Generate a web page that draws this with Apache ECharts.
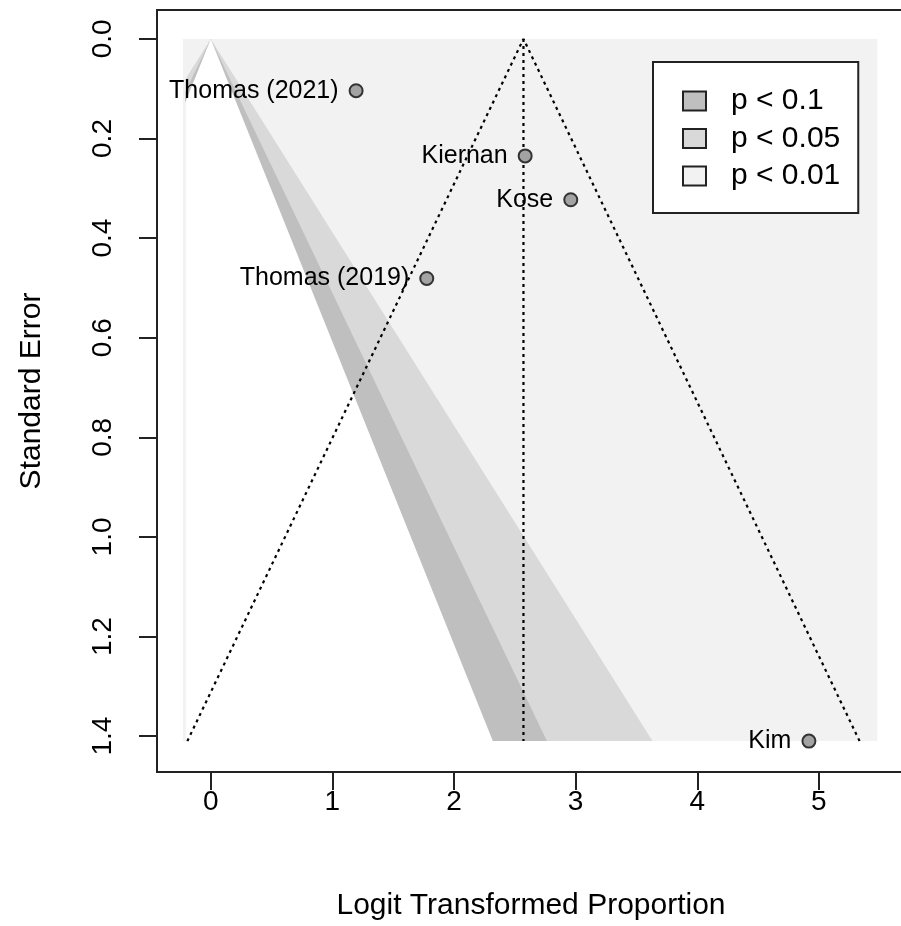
<!DOCTYPE html>
<html>
<head>
<meta charset="utf-8">
<script src="https://cdn.jsdelivr.net/npm/echarts@6/dist/echarts.min.js"></script>
<style>html,body{margin:0;padding:0;background:#fff;}#c{width:901px;height:926px;}</style>
</head>
<body>
<div id="c"></div>
<script>
// ---- data ----
var studies = ["Thomas (2021)", "Kiernan", "Kose", "Thomas (2019)", "Kim"];
var logitProp = [1.195, 2.585, 2.960, 1.776, 4.918];
var stdErr = [0.104, 0.235, 0.323, 0.481, 1.41];
var estimate = 2.571;
var xTicks = [0, 1, 2, 3, 4, 5];
var yTicks = [0, 0.2, 0.4, 0.6, 0.8, 1.0, 1.2, 1.4];
var contourZ = [1.6449, 1.96, 2.5758];          // 90%, 95%, 99%
var contourNames = ["p < 0.1", "p < 0.05", "p < 0.01"];
var shadeRegionX = [-0.228, 5.48];               // extent of shaded contour region
var xRange = [-0.442, 5.708];
var yRange = [-0.058, 1.472];

var seMax = Math.max.apply(null, stdErr);
var clipX = shadeRegionX[0] + 0.018;
var FONT = "'Liberation Sans', Arial, sans-serif";

function triangle(z) {
  var lx = -z * seMax, rx = z * seMax;
  if (lx < clipX) {
    return [[0, 0], [clipX, -clipX / z], [clipX, seMax], [rx, seMax]];
  }
  return [[0, 0], [lx, seMax], [rx, seMax]];
}
function polySeries(name, pts, color, z) {
  return {
    name: name, type: 'custom', data: [[0, 0]], z: z, silent: true,
    itemStyle: { color: color },
    label: { show: false },
    renderItem: function (params, api) {
      return {
        type: 'polygon',
        shape: { points: pts.map(function (p) { return api.coord(p); }) },
        style: { fill: color, stroke: 'none', lineWidth: 0 }
      };
    }
  };
}
var rectPts = [[shadeRegionX[0], 0], [shadeRegionX[1], 0], [shadeRegionX[1], seMax], [shadeRegionX[0], seMax]];

var dotted = { color: '#000', width: 2.2, type: [3, 4] };

var chart = echarts.init(document.getElementById('c'), null, { renderer: 'canvas' });
chart.setOption({
  animation: false,
  textStyle: { fontFamily: FONT },
  grid: { left: 157, top: 10, width: 748, height: 762, outerBoundsMode: 'none', containLabel: false,
    show: true, borderColor: '#222', borderWidth: 2, backgroundColor: 'transparent' },
  xAxis: {
    type: 'value', min: xRange[0], max: xRange[1], position: 'bottom',
    name: 'Logit Transformed Proportion', nameLocation: 'middle', nameGap: 119,
    nameTextStyle: { fontSize: 30, color: '#000', fontFamily: FONT },
    axisLine: { show: false, onZero: false },
    axisTick: { show: true, length: 18, inside: false, customValues: xTicks, lineStyle: { color: '#222', width: 2 } },
    axisLabel: { customValues: xTicks, fontSize: 28, color: '#000', margin: 16, fontFamily: FONT },
    splitLine: { show: false }
  },
  yAxis: {
    type: 'value', inverse: true, min: yRange[0], max: yRange[1], position: 'left',
    name: 'Standard Error', nameLocation: 'middle', nameGap: 110, nameRotate: 90,
    nameTextStyle: { fontSize: 30, color: '#000', fontFamily: FONT },
    axisLine: { show: false, onZero: false },
    axisTick: { show: true, length: 18, customValues: yTicks, lineStyle: { color: '#222', width: 2 } },
    axisLabel: { customValues: yTicks, fontSize: 28, color: '#000', rotate: 90, margin: 40, fontFamily: FONT,
      formatter: function (v) { return v.toFixed(1); } },
    splitLine: { show: false }
  },
  legend: {
    data: contourNames, orient: 'vertical', left: 653, top: 62,
    icon: 'rect', itemWidth: 23, itemHeight: 19, itemGap: 7.5,
    selectedMode: false,
    padding: [24, 18, 22, 29],
    backgroundColor: '#fff', borderColor: '#222', borderWidth: 2,
    itemStyle: { borderColor: '#222', borderWidth: 2 },
    textStyle: { fontSize: 30, color: '#000', lineHeight: 30, padding: [0, 0, 0, 20], fontFamily: FONT }
  },
  series: [
    polySeries(contourNames[2], rectPts, '#f2f2f2', 1),
    polySeries(contourNames[1], triangle(contourZ[2]), '#d9d9d9', 2),
    polySeries(contourNames[0], triangle(contourZ[1]), '#bfbfbf', 3),
    polySeries('_white', triangle(contourZ[0]), '#ffffff', 4),
    {
      type: 'line', z: 5, silent: true, symbol: 'none', lineStyle: dotted,
      data: [[estimate - 1.96 * seMax, seMax], [estimate, 0], [estimate + 1.96 * seMax, seMax]]
    },
    {
      type: 'line', z: 5, silent: true, symbol: 'none', lineStyle: dotted,
      data: [[estimate, 0], [estimate, seMax]]
    },
    {
      type: 'scatter', z: 6, symbol: 'circle', symbolSize: 13,
      itemStyle: { color: '#a3a3a3', borderColor: '#333', borderWidth: 2, opacity: 1 },
      label: { show: true, position: 'left', distance: 10, formatter: '{b}', fontSize: 25, color: '#000', fontFamily: FONT },
      data: studies.map(function (s, i) { return { name: s, value: [logitProp[i], stdErr[i]] }; })
    }
  ]
});
</script>
</body>
</html>
